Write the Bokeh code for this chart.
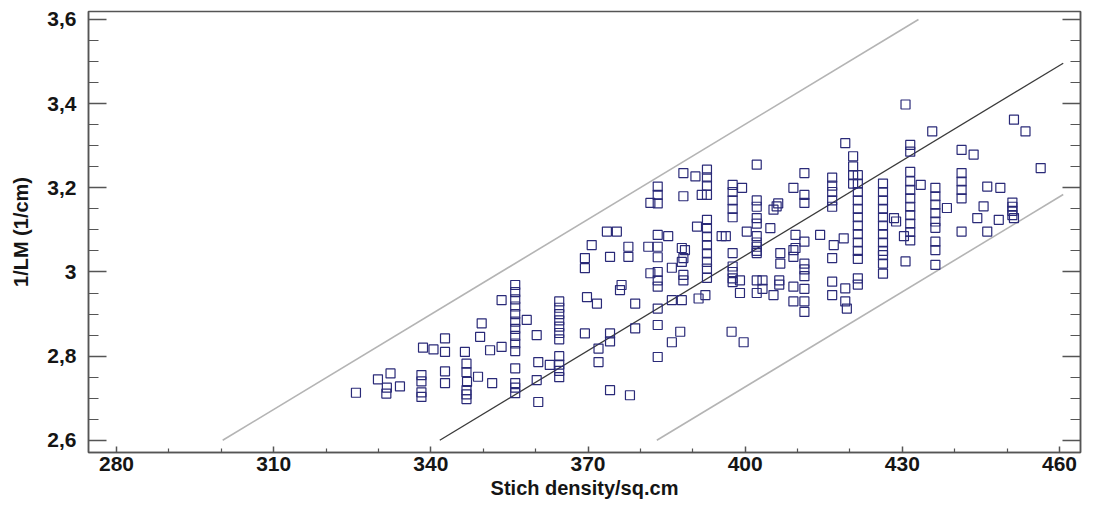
from bokeh.plotting import figure
from bokeh.models import FixedTicker, LinearAxis, CustomJSTickFormatter, Range1d
from bokeh.embed import file_html
from bokeh.resources import INLINE

# ---- data ----
stitch_density = [
    325.7, 329.9, 332.3, 331.6, 331.5, 334.1,
    338.2, 338.2, 338.2, 338.2, 338.5, 340.5,
    342.7, 342.7, 342.7, 342.7,
    346.5, 346.8, 346.8, 346.9, 346.8, 346.8, 346.8,
    349.0, 351.7, 349.7, 349.4, 351.3, 353.5, 353.5,
    356.1, 356.1, 356.1, 356.1, 356.1, 356.1, 356.1, 356.1, 356.1, 356.1,
    356.1, 356.1, 356.1, 356.1,
    358.3, 360.2, 360.5, 362.7, 360.2, 360.5,
    364.5, 364.5, 364.5, 364.5, 364.5, 364.5, 364.5, 364.5, 364.5, 364.5, 364.5,
    369.4, 369.4, 369.8, 371.7, 369.4, 372.0, 372.0, 374.2, 374.2, 374.2,
    378.0, 376.4, 376.1, 379.0, 379.0,
    370.7, 373.6, 375.5, 374.2, 377.7, 377.7,
    383.3, 383.3, 383.3, 383.3, 383.3, 383.3, 383.3, 383.3, 383.3, 383.3,
    383.3, 383.3,
    381.5, 381.9, 381.9,
    386.0, 387.9, 386.0, 387.6, 386.0, 388.2, 388.2, 388.2, 387.9, 387.9,
    388.5, 385.3, 388.2, 390.5, 388.2,
    392.7, 392.7, 392.7, 392.7, 392.7, 392.7, 392.7, 392.7, 392.7, 392.7,
    392.7, 392.7,
    391.1, 392.4, 390.8, 391.7,
    395.5, 396.3, 397.4, 399.7,
    397.6, 397.6, 397.6, 397.6, 397.6, 397.6, 397.6, 397.6, 397.6, 397.6,
    399.4, 400.3, 399.0, 399.0,
    402.2, 402.2, 402.2, 402.2, 402.2, 402.2, 402.2, 402.2, 402.2, 402.2,
    402.2, 402.2, 403.3, 403.3,
    404.8, 406.0, 406.3, 405.4, 405.4, 406.7, 406.7, 406.5, 406.5,
    409.2, 409.2, 409.2, 409.6, 409.6, 409.2, 409.2,
    411.3, 411.3, 411.3, 411.3, 411.3, 411.3, 411.3, 411.3, 411.3, 411.3,
    414.3, 416.9, 418.8,
    416.6, 416.6, 416.6, 416.6, 416.6, 416.6, 416.6, 416.6,
    419.1, 419.1, 419.1, 419.4,
    420.6, 420.6, 420.6, 420.6,
    421.5, 421.5, 421.5, 421.5, 421.5, 421.5, 421.5, 421.5, 421.5, 421.5,
    421.5, 421.5, 421.5,
    426.3, 426.3, 426.3, 426.3, 426.3, 426.3, 426.3, 426.3, 426.3, 426.3,
    426.3, 426.3,
    428.4, 428.8, 430.3, 430.6, 430.6,
    431.5, 431.5, 431.5, 431.5, 431.5, 431.5, 431.5, 431.5, 431.5, 431.5,
    431.5,
    433.5, 435.7,
    436.3, 436.3, 436.3, 436.3, 436.3, 436.3, 436.3, 436.3, 436.3,
    438.5,
    441.3, 441.3, 441.3, 441.3, 441.3, 441.3,
    443.6, 446.2, 448.7, 445.5, 444.3, 446.2, 448.4,
    451.3, 453.5, 456.4,
    451.0, 451.0, 451.0, 451.0, 451.3,
]

inv_lm = [
    2.713, 2.745, 2.759, 2.725, 2.711, 2.728,
    2.755, 2.740, 2.714, 2.703, 2.820, 2.816,
    2.842, 2.810, 2.764, 2.736,
    2.810, 2.782, 2.762, 2.739, 2.719, 2.709, 2.698,
    2.751, 2.736, 2.878, 2.846, 2.814, 2.822, 2.933,
    2.969, 2.952, 2.935, 2.918, 2.900, 2.882, 2.865, 2.848, 2.830, 2.812,
    2.771, 2.736, 2.725, 2.712,
    2.886, 2.850, 2.786, 2.779, 2.743, 2.691,
    2.930, 2.915, 2.900, 2.885, 2.870, 2.855, 2.840, 2.800, 2.780, 2.765, 2.750,
    3.033, 3.009, 2.940, 2.925, 2.854, 2.818, 2.786, 2.854, 2.835, 2.719,
    2.707, 2.969, 2.957, 2.925, 2.866,
    3.064, 3.096, 3.096, 3.036, 3.060, 3.036,
    3.203, 3.183, 3.163, 3.088, 3.060, 3.035, 3.000, 2.980, 2.965, 2.913,
    2.874, 2.798,
    3.060, 2.997, 3.164,
    2.933, 2.933, 2.833, 2.858, 3.010, 2.993, 2.980, 3.033, 3.057, 3.024,
    3.052, 3.085, 3.235, 3.227, 3.180,
    3.243, 3.225, 3.205, 3.183, 3.124, 3.104, 3.084, 3.064, 3.044, 3.024,
    3.008, 2.986,
    2.937, 2.945, 3.108, 3.183,
    3.085, 3.085, 2.858, 2.833,
    3.207, 3.190, 3.170, 3.150, 3.130, 3.045, 3.013, 3.000, 2.985, 2.976,
    3.200, 3.096, 2.980, 2.950,
    3.255, 3.170, 3.155, 3.128, 3.115, 3.085, 3.070, 3.060, 3.050, 3.045,
    2.980, 2.950, 2.980, 2.960,
    3.104, 3.156, 3.163, 3.148, 2.945, 3.045, 3.020, 2.980, 2.970,
    3.200, 3.052, 3.036, 3.088, 3.057, 2.965, 2.930,
    3.235, 3.183, 3.164, 3.072, 3.006, 3.020, 2.990, 2.960, 2.930, 2.905,
    3.088, 3.064, 3.080,
    3.224, 3.205, 3.190, 3.170, 3.155, 3.033, 2.977, 2.945,
    3.306, 2.961, 2.930, 2.913,
    3.275, 3.251, 3.230, 3.210,
    3.230, 3.210, 3.190, 3.170, 3.150, 3.130, 3.110, 3.090, 3.070, 3.050,
    3.031, 2.985, 2.970,
    3.210, 3.190, 3.170, 3.150, 3.130, 3.110, 3.090, 3.070, 3.050, 3.040,
    3.020, 2.996,
    3.128, 3.120, 3.085, 3.398, 3.025,
    3.302, 3.286, 3.238, 3.215, 3.195, 3.175, 3.155, 3.135, 3.115, 3.095,
    3.075,
    3.207, 3.334,
    3.200, 3.180, 3.160, 3.140, 3.120, 3.105, 3.072, 3.052, 3.017,
    3.152,
    3.290, 3.235, 3.215, 3.195, 3.175, 3.096,
    3.279, 3.203, 3.200, 3.156, 3.128, 3.096, 3.124,
    3.362, 3.334, 3.247,
    3.165, 3.155, 3.145, 3.135, 3.128,
]

# fitted model and prediction band
fit_intercept = 0.027
fit_slope = 0.00753
band_half_width = 0.312
line_x_start = 300.0
line_x_end = 460.7

x_ticks = [280, 310, 340, 370, 400, 430, 460]
x_minor = [270, 290, 300, 320, 330, 350, 360, 380, 390, 410, 420, 440, 450, 470]
y_ticks = [2.6, 2.8, 3.0, 3.2, 3.4, 3.6]
y_minor = [2.55, 2.65, 2.7, 2.75, 2.85, 2.9, 2.95, 3.05, 3.1, 3.15,
           3.25, 3.3, 3.35, 3.45, 3.5, 3.55]

x_min, x_max = 274.65, 464.0
y_min, y_max = 2.571, 3.619
y_clip_lo, y_clip_hi = 2.6, 3.6


def band_line(offset):
    a = fit_intercept + offset
    x0 = max(line_x_start, (y_clip_lo - a) / fit_slope)
    x1 = min(line_x_end, (y_clip_hi - a) / fit_slope)
    return [x0, x1], [a + fit_slope * x0, a + fit_slope * x1]


p = figure(width=1087, height=505,
           x_range=Range1d(x_min, x_max), y_range=Range1d(y_min, y_max),
           output_backend="svg", toolbar_location=None,
           min_border_left=88, min_border_right=7, min_border_top=11,
           min_border_bottom=53)
p.background_fill_color = "white"
p.border_fill_color = "white"
p.grid.visible = False
p.outline_line_color = "#555555"
p.outline_line_width = 1.5

# regression lines
ux, uy = band_line(band_half_width)
mx, my = band_line(0.0)
lx, ly = band_line(-band_half_width)
p.line(ux, uy, line_color="#b4b4b4", line_width=1.6)
p.line(lx, ly, line_color="#b4b4b4", line_width=1.6)
p.line(mx, my, line_color="#3a3a3a", line_width=1.3)

# scatter points
p.scatter(stitch_density, inv_lm, marker="square", size=9,
          fill_color=None, line_color="#2a2a78", line_width=1.2)

fmt = CustomJSTickFormatter(code="""
var s = (Math.round(tick*10)/10).toString();
return s.replace('.', ',');
""")
blank_fmt = CustomJSTickFormatter(code="return '';")

xa = p.xaxis[0]
xa.ticker = FixedTicker(ticks=x_ticks, minor_ticks=x_minor)
xa.axis_label = "Stich density/sq.cm"
ya = p.yaxis[0]
ya.ticker = FixedTicker(ticks=y_ticks, minor_ticks=y_minor)
ya.formatter = fmt
ya.axis_label = "1/LM (1/cm)"

for ax in (xa, ya):
    ax.axis_line_color = "#555555"
    ax.axis_line_width = 1.5
    ax.major_tick_line_color = "#555555"
    ax.minor_tick_line_color = "#555555"
    ax.major_tick_line_width = 1.5
    ax.minor_tick_line_width = 1.2
    ax.major_tick_out = 0
    ax.minor_tick_out = 0
    ax.major_label_text_font = "Liberation Sans"
    ax.major_label_text_font_style = "bold"
    ax.major_label_text_font_size = "21px"
    ax.major_label_text_color = "#151515"
    ax.axis_label_text_font = "Liberation Sans"
    ax.axis_label_text_font_style = "bold"
    ax.axis_label_text_font_size = "20px"
    ax.axis_label_text_color = "#151515"

xa.major_tick_in = 6
xa.minor_tick_in = 4
xa.major_label_standoff = 4
xa.axis_label_standoff = 3
ya.major_tick_in = 18
ya.minor_tick_in = 10
ya.major_label_standoff = 12
ya.axis_label_standoff = 12

ra = LinearAxis(ticker=FixedTicker(ticks=y_ticks, minor_ticks=y_minor),
                formatter=blank_fmt, major_label_standoff=0,
                axis_line_color="#555555", axis_line_width=1.5,
                major_tick_line_color="#555555", minor_tick_line_color="#555555",
                major_tick_line_width=1.5, minor_tick_line_width=1.2,
                major_tick_in=18, major_tick_out=0,
                minor_tick_in=10, minor_tick_out=0)
p.add_layout(ra, "right")

open("out.html", "w").write(file_html(p, INLINE))
